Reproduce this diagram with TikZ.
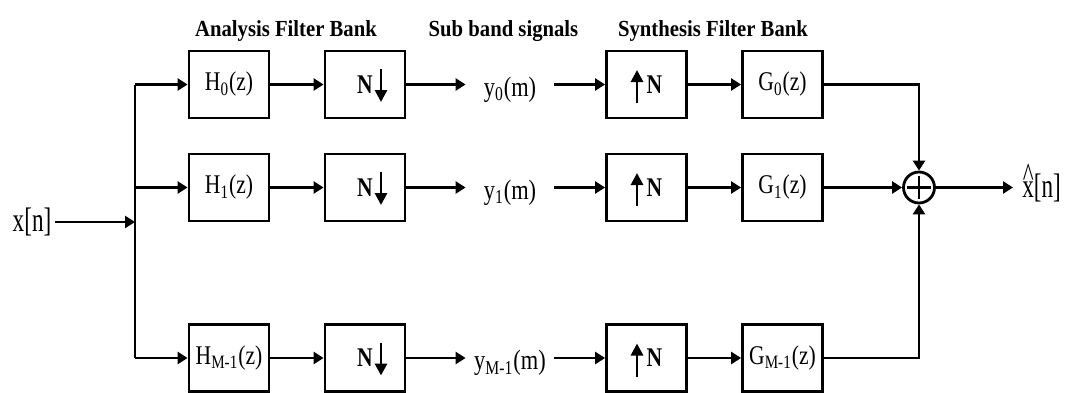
\documentclass[tikz,border=0pt]{standalone}
\usepackage{fontspec}
\setmainfont{Liberation Serif}[FakeStretch=0.8]
\newfontfamily\ttlfont{Liberation Serif}[FakeStretch=0.9]
\newfontfamily\sigfont{Liberation Serif}[FakeStretch=0.68]
\usetikzlibrary{arrows.meta,calc,positioning}

\begin{document}
\begin{tikzpicture}[x=0.5pt, y=-0.5pt, line width=1.4pt,
  sig/.style={-{Triangle[length=5pt,width=6pt]}},
  rate/.style={-{Triangle[length=6pt,width=6pt]}},
  blk/.style={draw, minimum width=40pt, minimum height=33.5pt, inner sep=0pt, font=\fontsize{13.5}{15}\selectfont},
  band/.style={minimum width=43pt, inner sep=0pt, font=\fontsize{14}{16}\selectfont},
  sumnode/.style={draw, circle, minimum size=15.5pt, inner sep=0pt},
  ttl/.style={font=\ttlfont\fontsize{11.5}{13}\selectfont\bfseries},
  io/.style={font=\sigfont\fontsize{17}{19}\selectfont}]

\useasboundingbox (0,0) rectangle (1072,392);

% titles
\node[ttl] (tana) at (286,31)   {Analysis Filter Bank};
\node[ttl] (tsub) at (503.5,31) {Sub band signals};
\node[ttl] (tsyn) at (713,31)   {Synthesis Filter Bank};

% input and branch
\node[io, inner sep=1pt] (xin) at (32,222) {x[n]};
\coordinate (br) at (135,222);
\coordinate (bt) at (135,84.5);
\coordinate (bb) at (135,358);
\draw[sig] (xin) -- (br);
\draw (bt) -- (bb);

% analysis filters
\node[blk] (h0) at (229,84.5)  {H\textsubscript{0}(z)};
\node[blk] (h1) at (229,187.5) {H\textsubscript{1}(z)};
\node[blk] (hm) at (229,358)   {H\textsubscript{M-1}(z)};
% decimators
\node[blk] (d0) at (365,84.5)  {\textbf{N}\hspace{5pt}};
\node[blk] (d1) at (365,187.5) {\textbf{N}\hspace{5pt}};
\node[blk] (dm) at (365,358)   {\textbf{N}\hspace{5pt}};
% sub band signals
\node[band] (y0) at (510,89.5)  {y\textsubscript{0}(m)};
\node[band] (y1) at (510,192.5) {y\textsubscript{1}(m)};
\node[band] (ym) at (510,363)   {y\textsubscript{M-1}(m)};
% expanders
\node[blk] (u0) at (646.5,84.5)  {\hspace{8pt}\textbf{N}};
\node[blk] (u1) at (646.5,187.5) {\hspace{8pt}\textbf{N}};
\node[blk] (um) at (646.5,358)   {\hspace{8pt}\textbf{N}};
% synthesis filters
\node[blk] (g0) at (782.5,84.5)  {G\textsubscript{0}(z)};
\node[blk] (g1) at (782.5,187.5) {G\textsubscript{1}(z)};
\node[blk] (gm) at (782.5,358)   {G\textsubscript{M-1}(z)};
% adder and output
\node[sumnode] (sum) at (919,187.5) {};
\draw[shorten <=2.5pt, shorten >=2.5pt] (sum.north) -- (sum.south);
\draw[shorten <=2.5pt, shorten >=2.5pt] (sum.west) -- (sum.east);
\node[io, inner xsep=4pt, inner ysep=1pt, anchor=west] (xout) at (1013,187.5)
  {\ooalign{x\cr\hidewidth\raisebox{0.32em}[0pt][0pt]{\char"5E}\hidewidth\cr}[n]};

% arrows in the rate changers
\draw[rate] ($(d0)+(16,-15.5)$) -- ($(d0)+(16,17.5)$);
\draw[rate] ($(d1)+(16,-15.5)$) -- ($(d1)+(16,17.5)$);
\draw[rate] ($(dm)+(16,-15.5)$) -- ($(dm)+(16,17.5)$);
\draw[rate] ($(u0)+(-9.5,18.5)$) -- ($(u0)+(-9.5,-14.5)$);
\draw[rate] ($(u1)+(-9.5,18.5)$) -- ($(u1)+(-9.5,-14.5)$);
\draw[rate] ($(um)+(-9.5,18.5)$) -- ($(um)+(-9.5,-14.5)$);

% branch -> H
\draw[sig] (bt) -- (h0);
\draw[sig] (br |- h1) -- (h1);
\draw[sig] (bb) -- (hm);
% H -> N down
\draw[sig] (h0) -- (d0);
\draw[sig] (h1) -- (d1);
\draw[sig] (hm) -- (dm);
% N down -> y
\draw[sig] (d0) -- (y0.west |- d0);
\draw[sig] (d1) -- (y1.west |- d1);
\draw[sig] (dm) -- (ym.west |- dm);
% y -> N up
\draw[sig] (y0.east |- u0) -- (u0);
\draw[sig] (y1.east |- u1) -- (u1);
\draw[sig] (ym.east |- um) -- (um);
% N up -> G
\draw[sig] (u0) -- (g0);
\draw[sig] (u1) -- (g1);
\draw[sig] (um) -- (gm);
% G -> adder
\draw[sig] (g0) -| (sum);
\draw[sig] (g1) -- (sum);
\draw[sig] (gm) -| (sum);
% adder -> output
\draw[sig] (sum) -- (xout);

\end{tikzpicture}
\end{document}
